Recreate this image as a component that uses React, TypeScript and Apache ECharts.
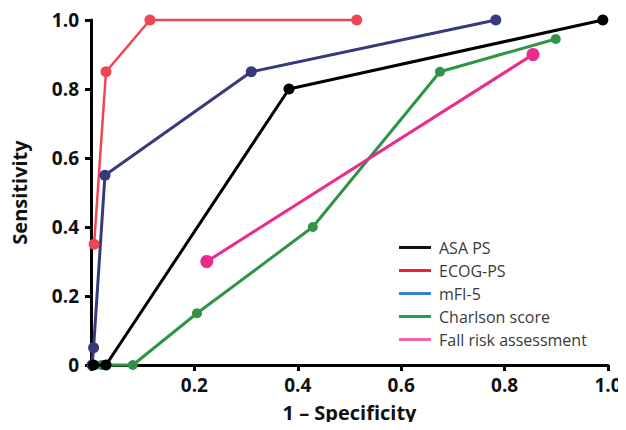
import React, { useEffect, useRef } from "react";
import * as echarts from "echarts";

const seriesNames = ["ASA PS", "ECOG-PS", "mFI-5", "Charlson score", "Fall risk assessment"];
const asaPs = [[0.005, 0], [0.029, 0], [0.383, 0.8], [0.99, 1.0]];
const ecogPs = [[0.006, 0.35], [0.029, 0.85], [0.114, 1.0], [0.514, 1.0]];
const mfi5 = [[0.002, 0], [0.005, 0.05], [0.027, 0.55], [0.31, 0.85], [0.783, 1.0]];
const charlson = [[0.02, 0], [0.081, 0], [0.205, 0.15], [0.429, 0.4], [0.675, 0.85], [0.899, 0.945]];
const fallRisk = [[0.224, 0.3], [0.855, 0.9]];
const lineColors = ["#000000", "#ef4651", "#363a7a", "#2f9448", "#ec2a8c"];
const legendColors = ["#111111", "#f0202e", "#3a80c6", "#1fa050", "#f062b2"];
const symbolSizes = [11, 11, 11, 10, 13];

export default function App() {
  const ref = useRef<HTMLDivElement>(null);
  useEffect(() => {
    const chart = echarts.init(ref.current!, null, { renderer: "svg" });
    const datas = [asaPs, ecogPs, mfi5, charlson, fallRisk];
    const order = [1, 2, 3, 4, 0];
    chart.setOption({
      animation: false,
      grid: { left: 91, right: 18, top: 20, bottom: 65 },
      legend: {
        orient: "vertical",
        left: 394,
        top: 231,
        icon: "rect",
        itemWidth: 32,
        itemHeight: 3,
        itemGap: 0,
        textStyle: { fontFamily: "Open Sans", fontSize: 16, color: "#3a3a3a", lineHeight: 23, padding: [0, 0, 0, 3] },
        data: seriesNames.map((n, i) => ({ name: n, itemStyle: { color: legendColors[i] } })),
      },
      xAxis: {
        type: "value",
        min: 0,
        max: 1,
        interval: 0.2,
        name: "1 \u2013 Specificity",
        nameLocation: "middle",
        nameGap: 37,
        nameTextStyle: { fontFamily: "Open Sans", fontWeight: "bold", fontSize: 20, color: "#111" },
        axisLine: { show: true, lineStyle: { color: "#000", width: 3 } },
        axisTick: { show: true, length: 6, lineStyle: { color: "#000", width: 3 } },
        axisLabel: {
          fontFamily: "Open Sans", fontWeight: "bold", fontSize: 19, color: "#111", margin: 10,
          formatter: (v: number) => (v === 0 ? "" : v.toFixed(1)),
        },
        splitLine: { show: false },
      },
      yAxis: {
        type: "value",
        min: 0,
        max: 1,
        interval: 0.2,
        name: "Sensitivity",
        nameLocation: "middle",
        nameGap: 62,
        nameRotate: 90,
        nameTextStyle: { fontFamily: "Open Sans", fontWeight: "bold", fontSize: 20, color: "#111" },
        axisLine: { show: true, lineStyle: { color: "#000", width: 3 } },
        axisTick: { show: true, length: 6, lineStyle: { color: "#000", width: 3 } },
        axisLabel: {
          fontFamily: "Open Sans", fontWeight: "bold", fontSize: 19, color: "#111", margin: 12,
          formatter: (v: number) => (v === 0 ? "0" : v.toFixed(1)),
        },
        splitLine: { show: false },
      },
      series: order.map((i) => ({
        name: seriesNames[i],
        type: "line",
        data: datas[i],
        clip: false,
        symbol: "circle",
        symbolSize: symbolSizes[i],
        lineStyle: { color: lineColors[i], width: i === 1 ? 2.5 : 3 },
        itemStyle: { color: lineColors[i] },
        z: i === 0 ? 5 : 2,
      })),
    });
    return () => chart.dispose();
  }, []);
  return <div ref={ref} style={{ width: 626, height: 430, margin: -8 }} />;
}
